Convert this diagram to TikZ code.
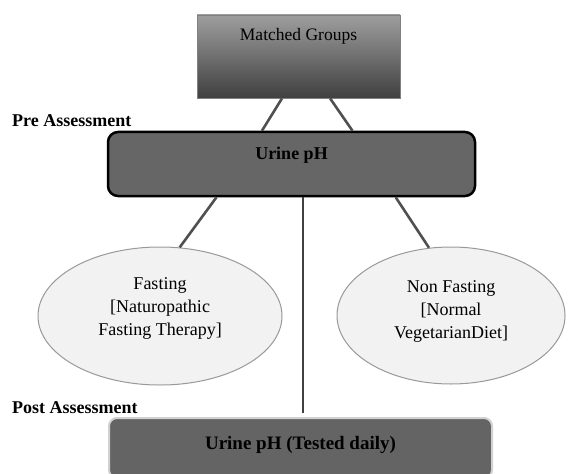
\documentclass[tikz,border=0pt]{standalone}
\usepackage{fontspec}
\setmainfont{Liberation Serif}
\usetikzlibrary{shapes.geometric,calc}
\definecolor{boxgray}{HTML}{666666}
\definecolor{botgray}{HTML}{646464}
\definecolor{ellfill}{HTML}{F2F2F2}
\definecolor{ellline}{HTML}{999999}
\definecolor{connline}{HTML}{505050}
\begin{document}
\begin{tikzpicture}[x=1pt,y=-1pt,
  mgbox/.style={draw=gray, line width=0.8pt, top color=black!38, bottom color=black!75,
    minimum width=203pt, inner sep=0pt, text height=26pt, text depth=57pt,
    font=\fontsize{17.5}{21}\selectfont},
  urbox/.style={draw=black, line width=2.5pt, fill=boxgray, rounded corners=10pt,
    minimum width=367pt, inner sep=0pt, text height=28pt, text depth=36pt,
    font=\bfseries\fontsize{18}{22}\selectfont},
  botbox/.style={draw=black!18, line width=2pt, fill=botgray, rounded corners=8pt,
    minimum width=383pt, inner sep=0pt, text height=31pt, text depth=29pt,
    font=\bfseries\fontsize{19}{23}\selectfont},
  grpell/.style={ellipse, draw=ellline, line width=1pt, fill=ellfill, inner sep=0pt,
    font=\fontsize{18}{23}\selectfont},
  phase/.style={anchor=base west, inner sep=0pt, font=\bfseries\fontsize{18}{22}\selectfont},
  conn/.style={draw=connline, line width=2.6pt},
  vconn/.style={draw=black!75, line width=2.4pt}
]
\useasboundingbox (0,0) rectangle (569,473);

\node[mgbox] (mg) at (298.5,56.5) {Matched Groups};
\node[urbox] (ur) at (291.5,164) {Urine pH};
\node[botbox] (bt) at (300.5,448) {Urine pH (Tested daily)};

\node[grpell, minimum width=244pt, minimum height=138pt] (fl) at (160,316)
  {\raisebox{8pt}[\height][\depth]{\begin{tabular}{@{}c@{}}Fasting\\{[}Naturopathic\\Fasting Therapy{]}\end{tabular}}};
\node[grpell, minimum width=228pt, minimum height=137pt] (fn) at (451,315.5)
  {\raisebox{5pt}[\height][\depth]{\begin{tabular}{@{}c@{}}Non Fasting\\{[}Normal\\VegetarianDiet{]}\end{tabular}}};

\node[phase] (pre) at (12,127) {Pre Assessment};
\node[phase] (post) at (12,413) {Post Assessment};

\coordinate (vend) at (303,413);

\draw[conn] ($(mg.south west)!0.419!(mg.south east)$) -- ($(ur.north west)!0.42!(ur.north east)$);
\draw[conn] ($(mg.south west)!0.655!(mg.south east)$) -- ($(ur.north west)!0.665!(ur.north east)$);
\draw[conn] ($(ur.south west)!0.297!(ur.south east)$) -- (fl.74);
\draw[conn] ($(ur.south west)!0.782!(ur.south east)$) -- (fn.108.6);
\draw[vconn] (ur.south -| vend) -- (vend);
\end{tikzpicture}
\end{document}
